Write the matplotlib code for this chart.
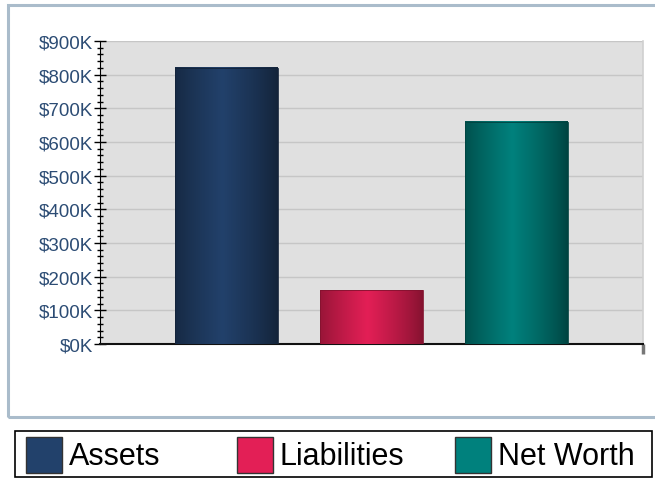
import numpy as np
import matplotlib
matplotlib.use("Agg")
import matplotlib.pyplot as plt
from matplotlib.patches import Rectangle
from matplotlib.colors import to_rgb
from matplotlib.ticker import FuncFormatter, MultipleLocator

# Balance sheet summary
categories = ["Assets", "Liabilities", "Net Worth"]
values = [820000, 160000, 660000]
mid_colors = ["#22416b", "#e31f56", "#00817d"]
edge_colors = ["#132339", "#83122f", "#004340"]

plt.rcParams["font.family"] = ["Liberation Sans", "DejaVu Sans"]

fig = plt.figure(figsize=(6.55, 4.81), dpi=100)
W, H = 655, 481

# outer frame around chart area
fig.patches.append(Rectangle((8 / W, 1 - 418 / H), 660 / W, 412 / H,
                             transform=fig.transFigure, fill=False,
                             edgecolor="#aabccb", linewidth=2.2))

ax = fig.add_axes([100 / W, 1 - 345 / H, 543 / W, 303 / H])
ax.set_facecolor("#e0e0e0")

x = np.arange(len(categories))
bar_w = 0.71
xl = (-0.872, 2.872)

# gradient-shaded bars
t = np.linspace(0, 1, 200)
shade = np.clip(1 - np.abs(t - 0.46) / 0.54, 0, 1) ** 0.8
for xi, v, mc, ec in zip(x, values, mid_colors, edge_colors):
    m = np.array(to_rgb(mc))
    e = np.array(to_rgb(ec))
    img = e[None, :] + (m - e)[None, :] * shade[:, None]
    ax.imshow(img[None, :, :], extent=(xi - bar_w / 2, xi + bar_w / 2, 0, v),
              aspect="auto", zorder=3, interpolation="bilinear")
    ax.add_patch(Rectangle((xi - bar_w / 2, 0), bar_w, v, fill=False,
                           edgecolor=ec, linewidth=0.6, zorder=4))

ax.set_xlim(*xl)
ax.set_ylim(0, 900000)
ax.yaxis.set_major_locator(MultipleLocator(100000))
ax.yaxis.set_minor_locator(MultipleLocator(20000))
ax.yaxis.set_major_formatter(FuncFormatter(lambda v, p: f"${int(v / 1000)}K"))
ax.grid(axis="y", color="#c6c6c6", linewidth=1.0, zorder=1)
ax.set_axisbelow(True)

ax.tick_params(axis="y", which="major", direction="inout", length=8, width=1,
               color="black", labelsize=13.5, labelcolor="#2c4c74", pad=1)
ax.tick_params(axis="y", which="minor", direction="inout", length=5, width=1,
               color="black")
ax.set_xticks([xl[1]])
ax.set_xticklabels([""])
ax.tick_params(axis="x", direction="out", length=7, width=2.5, color="#777777")

ax.spines["top"].set_visible(False)
ax.spines["right"].set_color("#d0d0d0")
ax.spines["right"].set_linewidth(1.2)
ax.spines["left"].set_color("black")
ax.spines["bottom"].set_color("#111111")
ax.spines["bottom"].set_linewidth(1.5)

# legend box
fig.patches.append(Rectangle((15 / W, 1 - 478 / H), 637 / W, 46 / H,
                             transform=fig.transFigure, fill=False,
                             edgecolor="black", linewidth=1.2))
patch_x = [26, 237, 455]
for px, name, mc in zip(patch_x, categories, mid_colors):
    fig.patches.append(Rectangle((px / W, 1 - 474 / H), 36 / W, 36 / H,
                                 transform=fig.transFigure, facecolor=mc,
                                 edgecolor="#333333", linewidth=1.0))
    fig.text((px + 43) / W, 1 - 457 / H, name, fontsize=22, color="black",
             va="center", ha="left")

fig.savefig("out.png", dpi=100)
